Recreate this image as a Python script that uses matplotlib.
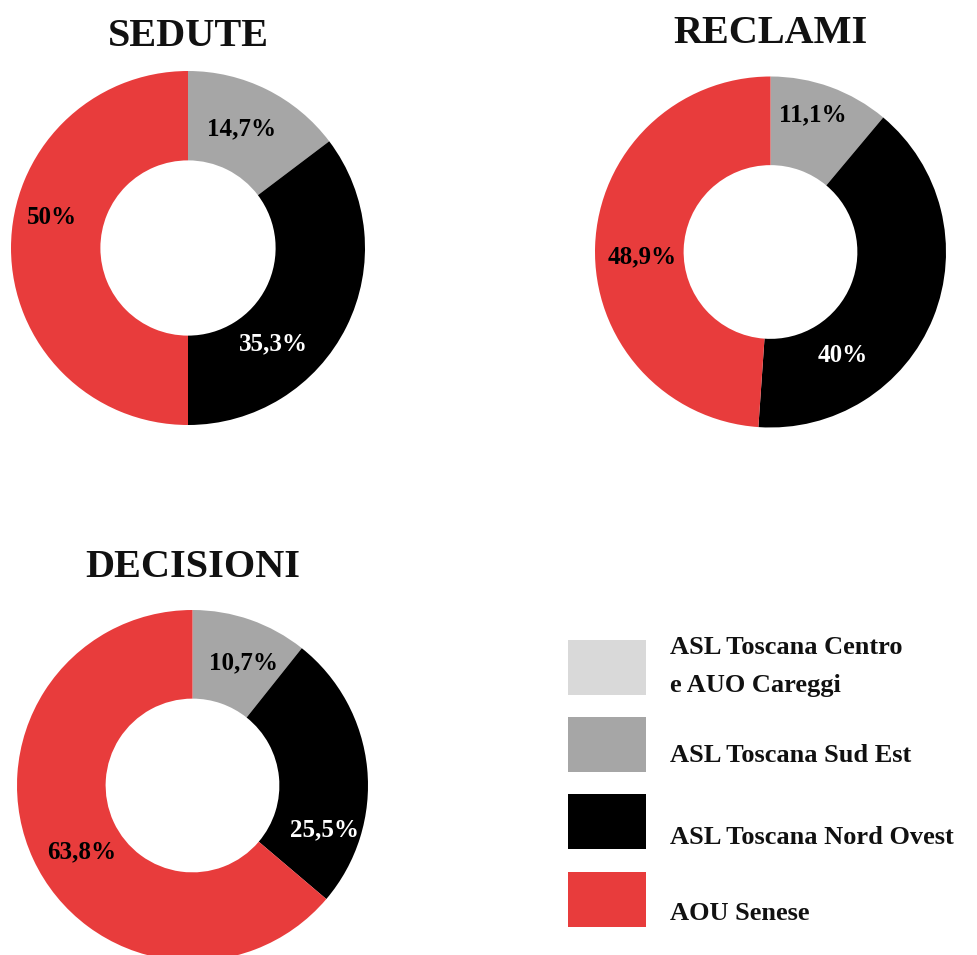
import matplotlib
matplotlib.use("Agg")
import matplotlib.pyplot as plt
from matplotlib.patches import Rectangle

plt.rcParams['font.family'] = ['Liberation Serif', 'DejaVu Serif']

# Data
aziende = ["ASL Toscana Centro\ne AUO Careggi", "ASL Toscana Sud Est",
           "ASL Toscana Nord Ovest", "AOU Senese"]
colori = ["#d9d9d9", "#a6a6a6", "#000000", "#e83c3c"]
titoli = ["SEDUTE", "RECLAMI", "DECISIONI"]
sedute = [0.0, 14.7, 35.3, 50.0]
reclami = [0.0, 11.1, 40.0, 48.9]
decisioni = [0.0, 10.7, 25.5, 63.8]
serie = [sedute, reclami, decisioni]

# Layout (pixels): donut centre x, centre y, outer radius
W, H = 978, 955
geometria = [(188, 248, 177), (770.5, 252, 175.5), (192.5, 785.5, 175.5)]
titolo_base = [46, 43, 577]
# label offsets inside each donut, in units of the outer radius (one per azienda)
pos_etichette = [
    [None, (0.305, 0.675), (0.48, -0.54), (-0.77, 0.17)],
    [None, (0.24, 0.78), (0.41, -0.59), (-0.73, -0.03)],
    [None, (0.29, 0.70), (0.75, -0.25), (-0.63, -0.38)],
]
colori_testo = ["black", "black", "white", "black"]


def fmt(v):
    s = f"{v:.1f}".replace(".", ",")
    if s.endswith(",0"):
        s = s[:-2]
    return s + "%"


fig = plt.figure(figsize=(W / 100, H / 100), dpi=100)

for valori, (cx, cy, R), titolo, tb, posiz in zip(serie, geometria, titoli,
                                                  titolo_base, pos_etichette):
    ax = fig.add_axes([(cx - R) / W, 1 - (cy + R) / H, 2 * R / W, 2 * R / H])
    ax.pie(valori, colors=colori, startangle=90, counterclock=False,
           radius=1.0, wedgeprops=dict(width=0.505, linewidth=0))
    ax.set_xlim(-1, 1)
    ax.set_ylim(-1, 1)
    ax.set_aspect("equal")
    ax.axis("off")
    for v, p, tc in zip(valori, posiz, colori_testo):
        if v <= 0 or p is None:
            continue
        ax.text(p[0], p[1], fmt(v), ha="center", va="center", color=tc,
                fontsize=18, fontweight="bold", clip_on=False)
    fig.text(cx / W, 1 - tb / H, titolo, ha="center", va="baseline",
             fontsize=29, fontweight="bold", color="#111111")

# Legend drawn on an overlay in pixel coordinates
lg = fig.add_axes([0, 0, 1, 1], zorder=-1)
lg.set_xlim(0, W)
lg.set_ylim(H, 0)
lg.axis("off")
quadrati_y = [640, 717, 794, 872]
testo_y = [647, 755, 837, 913]
interlinea = 38
for nome, col, qy, tyy in zip(aziende, colori, quadrati_y, testo_y):
    lg.add_patch(Rectangle((568, qy), 78, 55, facecolor=col, edgecolor="none"))
    for i, riga in enumerate(nome.split("\n")):
        lg.text(670, tyy + i * interlinea, riga, ha="left", va="center",
                fontsize=19, fontweight="bold", color="#111111")

fig.savefig("out.png", dpi=100, facecolor="white")
